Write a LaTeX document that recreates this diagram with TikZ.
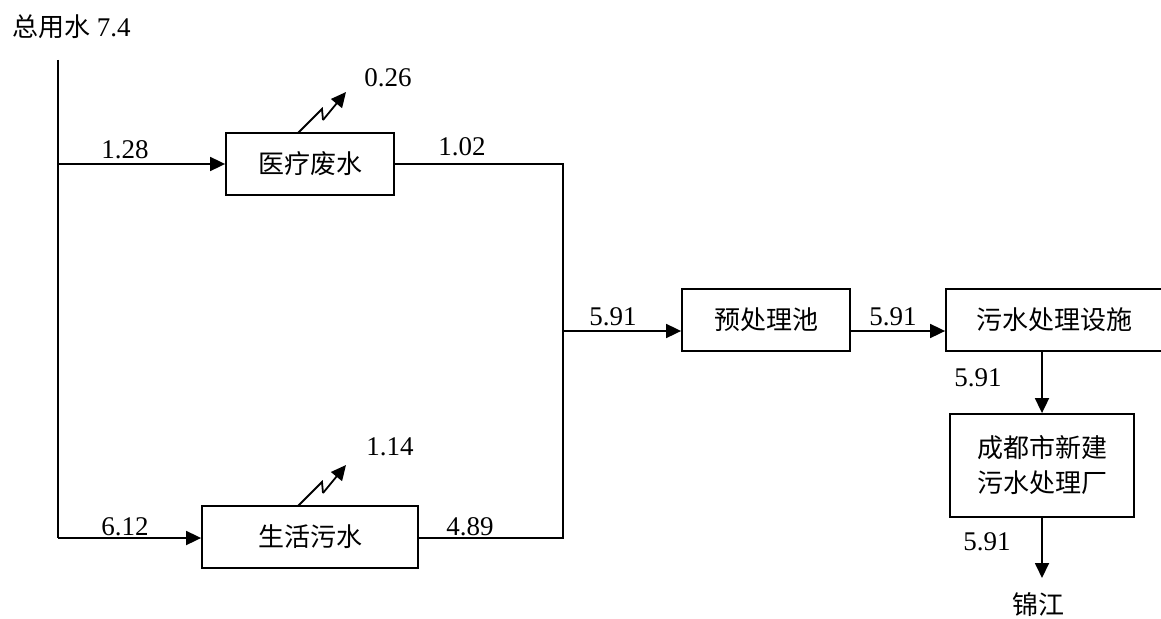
\documentclass[tikz,border=0pt]{standalone}
\usepackage{fontspec}
\setmainfont{Liberation Serif}
\newfontfamily\cjk{Noto Sans CJK SC}
\usetikzlibrary{arrows.meta,calc}
\tikzset{
  box/.style={draw, line width=1.8pt, inner sep=0pt, font=\cjk\fontsize{26}{35}\selectfont, align=center},
  lbl/.style={inner sep=0pt, font=\fontsize{27}{32}\selectfont},
  clbl/.style={inner sep=0pt, font=\cjk\fontsize{26}{32}\selectfont},
  flow/.style={line width=1.8pt, -{Triangle[length=15pt,width=14pt]}},
  wire/.style={line width=1.8pt},
}
\begin{document}
\begin{tikzpicture}[x=1pt,y=-1pt]
\useasboundingbox (0,0) rectangle (1161,618);
% boxes
\node[box, minimum width=168pt, minimum height=62pt] (med) at (310,164) {医疗废水};
\node[box, minimum width=216pt, minimum height=62pt] (life) at (310,537) {生活污水};
\node[box, minimum width=168pt, minimum height=62pt] (pre) at (766,320) {预处理池};
\node[box, minimum width=217pt, minimum height=62pt] (sew) at (1054.5,320) {污水处理设施};
\node[box, minimum width=184pt, minimum height=103pt] (plant) at (1042,465.5) {成都市新建\\污水处理厂};
% coordinates
\coordinate (top) at (58,60);
\coordinate (jt) at (58,164);
\coordinate (jb) at (58,538);
\coordinate (mt) at (563,164);
\coordinate (mb) at (563,538);
\coordinate (mm) at (563,331);
\coordinate (river) at (1042,578);
% main left line and branches
\draw[wire] (top) -- (jb);
\draw[flow] (jt) -- (med.west);
\draw[flow] (jb) -- (life.west |- jb);
% collection
\draw[wire] (med.east) -- (mt) -- (mb) -- (life.east |- mb);
\draw[flow] (mm) -- (pre.west |- mm);
\draw[flow] (pre.east |- mm) -- (sew.west |- mm);
\draw[flow] (sew.south -| plant.north) -- (plant.north);
\draw[flow] (plant.south) -- (river);
% evaporation zigzags
\coordinate (z1) at (298,133);
\draw[wire] (z1) -- ++(24,-24) -- ++(1,11);
\draw[flow] ($(z1)+(25,-13)$) -- ($(z1)+(48,-41)$);
\coordinate (z2) at (298,506);
\draw[wire] (z2) -- ++(24,-24) -- ++(1,11);
\draw[flow] ($(z2)+(25,-13)$) -- ($(z2)+(48,-41)$);
% labels
\node[lbl, anchor=west] (title) at (12,27) {{\cjk\fontsize{26}{32}\selectfont 总用水} 7.4};
\node[lbl] (l128) at (125,150) {1.28};
\node[lbl] (l026) at (388,78) {0.26};
\node[lbl] (l102) at (462,147) {1.02};
\node[lbl] (l114) at (390,447) {1.14};
\node[lbl] (l612) at (125,527) {6.12};
\node[lbl] (l489) at (470,527) {4.89};
\node[lbl] (l591a) at (613,317) {5.91};
\node[lbl] (l591b) at (893,317) {5.91};
\node[lbl] (l591c) at (978,378) {5.91};
\node[lbl] (l591d) at (987,542) {5.91};
\node[clbl] (jj) at (1038,605) {锦江};
\end{tikzpicture}
\end{document}
